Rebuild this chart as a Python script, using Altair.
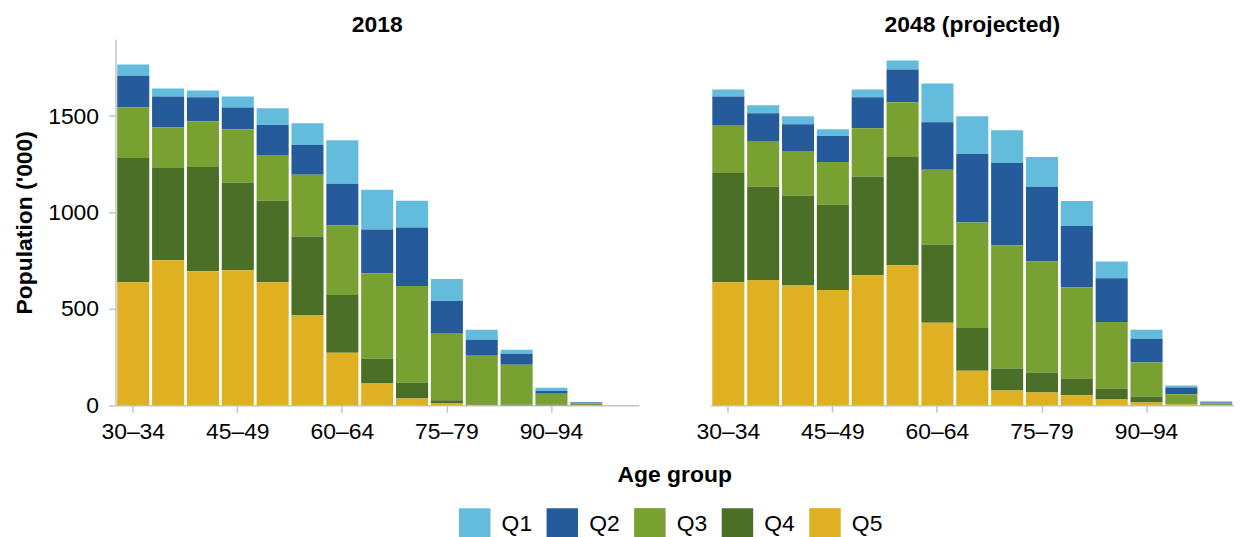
import altair as alt
import pandas as pd

ages = ["30–34", "35–39", "40–44", "45–49", "50–54", "55–59", "60–64", "65–69",
        "70–74", "75–79", "80–84", "85–89", "90–94", "95–99", "100+"]
tick_ages = ["30–34", "45–49", "60–64", "75–79", "90–94"]
years = ["2018", "2048 (projected)"]
quintiles = ["Q1", "Q2", "Q3", "Q4", "Q5"]
colors = ["#63bcdc", "#265b9b", "#78a131", "#4b6f27", "#dfb021"]

# Population ('000) by income quintile, 2018
q1_2018 = [58, 41, 36, 57, 87, 113, 226, 207, 139, 114, 52, 21, 16, 2, 0]
q2_2018 = [164, 160, 124, 113, 155, 155, 217, 226, 304, 165, 82, 57, 15, 5, 0]
q3_2018 = [262, 211, 237, 278, 237, 320, 361, 444, 500, 350, 253, 208, 57, 10, 1]
q4_2018 = [645, 479, 541, 454, 423, 407, 299, 129, 83, 16, 3, 2, 3, 0, 0]
q5_2018 = [639, 753, 696, 701, 639, 469, 273, 113, 36, 10, 2, 1, 0, 0, 0]

# Population ('000) by income quintile, 2048 (projected)
q1_2048 = [36, 41, 41, 36, 41, 47, 201, 196, 170, 155, 129, 87, 47, 10, 6]
q2_2048 = [149, 145, 139, 134, 160, 170, 247, 355, 428, 387, 318, 227, 123, 36, 5]
q3_2048 = [248, 237, 232, 222, 252, 283, 387, 547, 639, 577, 474, 345, 176, 47, 5]
q4_2048 = [567, 484, 464, 443, 511, 562, 407, 222, 114, 103, 87, 57, 31, 5, 3]
q5_2048 = [639, 650, 624, 598, 675, 727, 428, 180, 77, 67, 52, 31, 15, 5, 2]

series = {
    "2018": [q1_2018, q2_2018, q3_2018, q4_2018, q5_2018],
    "2048 (projected)": [q1_2048, q2_2048, q3_2048, q4_2048, q5_2048],
}

rows = []
for yr in years:
    for qi, q in enumerate(quintiles):
        for ai, a in enumerate(ages):
            rows.append({"year": yr, "age": a, "quintile": q,
                         "rank": 4 - qi, "value": series[yr][qi][ai]})
df = pd.DataFrame(rows)

FONT = "Liberation Sans"
AX = "#c4c4c4"

base = alt.Chart(df).mark_bar().encode(
    x=alt.X("age:N", sort=ages,
            scale=alt.Scale(paddingInner=0.08, paddingOuter=0.05),
            axis=alt.Axis(title=None, values=tick_ages, labelAngle=0,
                          labelFontSize=23, labelPadding=8, tickSize=7,
                          labelColor="black")),
    y=alt.Y("value:Q", stack="zero",
            scale=alt.Scale(domain=[0, 1900], nice=False),
            axis=alt.Axis(title="Population ('000)", values=[0, 500, 1000, 1500],
                          format="d",
                          labelFontSize=23, labelPadding=10, tickSize=7,
                          titleFontSize=23, titleFontWeight="bold",
                          titlePadding=11, grid=False, labelColor="black")),
    color=alt.Color("quintile:N",
                    scale=alt.Scale(domain=quintiles, range=colors),
                    legend=alt.Legend(title=None, orient="none",
                                      legendX=345, legendY=471,
                                      direction="horizontal",
                                      symbolType="square", symbolSize=1000,
                                      symbolStrokeWidth=0,
                                      labelFontSize=23, labelOffset=11,
                                      columnPadding=14)),
    order=alt.Order("rank:Q", sort="ascending"),
).properties(width=526, height=368)

chart = base.facet(
    column=alt.Column("year:N", sort=years,
                      header=alt.Header(title="Age group", titleOrient="bottom",
                                        labelOrient="top",
                                        labelFontSize=23, labelFontWeight="bold",
                                        labelPadding=2, labelColor="black",
                                        titleFontSize=23, titleFontWeight="bold",
                                        titleColor="black", titlePadding=11)),
    spacing=72,
).properties(
    padding={"left": 5, "top": 5, "right": 0, "bottom": 0}
).configure(font=FONT).configure_view(stroke=None).configure_axis(
    domainColor=AX, tickColor=AX, domainWidth=1.5, tickWidth=1.5,
    labelFont=FONT, titleFont=FONT, titleColor="black",
).configure_legend(labelFont=FONT, labelColor="black")

chart.save("out.html", embed_options={"renderer": "svg", "actions": False})
